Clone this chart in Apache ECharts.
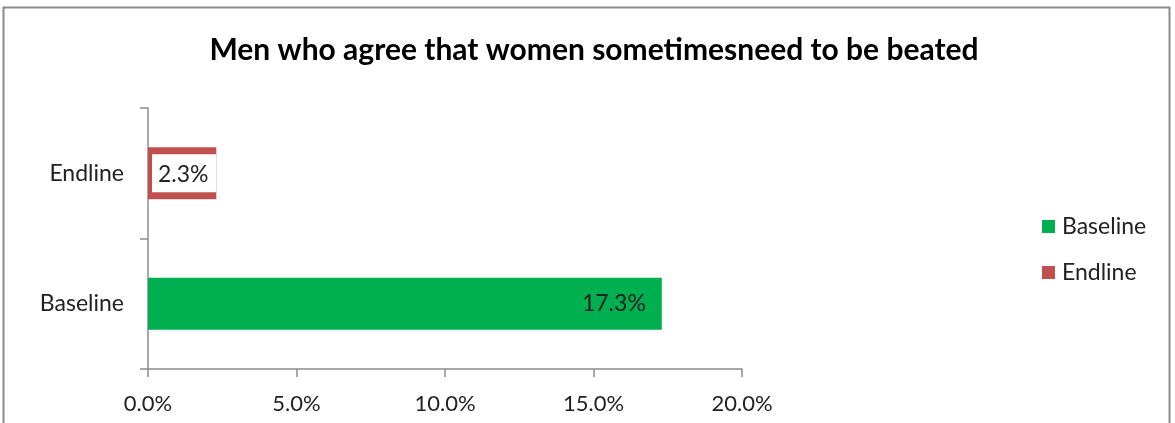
<!DOCTYPE html>
<html>
<head>
<meta charset="utf-8">
<script src="https://cdn.jsdelivr.net/npm/echarts@6/dist/echarts.min.js"></script>
<style>
  html, body { margin: 0; padding: 0; background: #ffffff; }
  #chart { width: 1175px; height: 423px; }
</style>
</head>
<body>
<div id="chart"></div>
<script>
// Survey results: share of men agreeing with the statement
const categories = ['Baseline', 'Endline'];
const baselineValues = [17.3, null];
const endlineValues = [null, 2.3];
const xTicks = [0, 5, 10, 15, 20];

const FONT = 'Lato, "Open Sans", sans-serif';
const GREEN = '#00B050';
const RED = '#C0504D';
const AXIS = '#8c8c8c';

const chart = echarts.init(document.getElementById('chart'));

// Endline bar: white body framed in red on top, bottom and left
function renderOutlinedBar(params, api) {
  const v = api.value(1);
  if (v == null || isNaN(v)) return;
  const idx = api.value(0);
  const start = api.coord([0, idx]);
  const end = api.coord([v, idx]);
  const band = api.size([0, 1])[1] * 0.4;
  const x0 = start[0], x1 = end[0];
  const y0 = start[1] - band / 2;
  const h = band;
  const t = 7, l = 4;
  return {
    type: 'group',
    children: [
      { type: 'rect', shape: { x: x0, y: y0, width: x1 - x0, height: h }, style: { fill: RED } },
      { type: 'rect', shape: { x: x0 + l, y: y0 + t, width: x1 - x0 - l, height: h - 2 * t }, style: { fill: '#ffffff' } },
      {
        type: 'text',
        x: (x0 + x1) / 2 + 1, y: start[1] + 1,
        style: {
          text: v.toFixed(1) + '%', fill: '#222222', font: '23px ' + FONT,
          align: 'center', verticalAlign: 'middle'
        }
      }
    ]
  };
}

chart.setOption({
  animation: false,
  backgroundColor: '#ffffff',
  title: {
    text: 'Men who agree that women sometimesneed to be beated',
    left: 589, top: 30, textAlign: 'center',
    textStyle: { fontFamily: FONT, fontWeight: 'bold', fontSize: 30, color: '#000000' }
  },
  graphic: [{
    type: 'rect', z: -1, silent: true,
    shape: { x: 3.5, y: 7.5, width: 1166, height: 440 },
    style: { fill: 'none', stroke: '#8a8a8a', lineWidth: 2 }
  }],
  legend: {
    orient: 'vertical',
    left: 1037, top: 210,
    itemWidth: 13, itemHeight: 13, itemGap: 23,
    icon: 'rect',
    textStyle: { fontFamily: FONT, fontSize: 23, color: '#222222', padding: [0, 0, 0, 2] },
    data: ['Baseline', 'Endline']
  },
  grid: { left: 148, right: 433, top: 108, bottom: 54, containLabel: false },
  xAxis: {
    type: 'value', min: 0, max: 20, interval: 5,
    axisLine: { show: true, lineStyle: { color: AXIS, width: 1.5 } },
    axisTick: { show: true, length: 8, lineStyle: { color: AXIS, width: 1.5 } },
    splitLine: { show: false },
    axisLabel: {
      margin: 24, fontFamily: FONT, fontSize: 22, color: '#222222',
      formatter: v => xTicks.includes(v) ? v.toFixed(1) + '%' : ''
    }
  },
  yAxis: {
    type: 'category', data: categories,
    axisLine: { show: true, lineStyle: { color: AXIS, width: 1.5 } },
    axisTick: { show: true, length: 8, alignWithLabel: false, lineStyle: { color: AXIS, width: 1.5 } },
    axisLabel: { margin: 24, fontFamily: FONT, fontSize: 23, color: '#222222' }
  },
  series: [
    {
      name: 'Baseline', type: 'bar', data: baselineValues,
      barWidth: '40%', barGap: '-100%',
      itemStyle: { color: GREEN },
      label: {
        show: true, position: 'insideRight', distance: 16,
        fontFamily: FONT, fontSize: 23, color: '#222222',
        formatter: p => p.value.toFixed(1) + '%'
      }
    },
    {
      name: 'Endline', type: 'custom',
      itemStyle: { color: RED },
      encode: { x: 1, y: 0 },
      data: categories.map((c, i) => [i, endlineValues[i]]),
      renderItem: renderOutlinedBar
    }
  ]
});
</script>
</body>
</html>
